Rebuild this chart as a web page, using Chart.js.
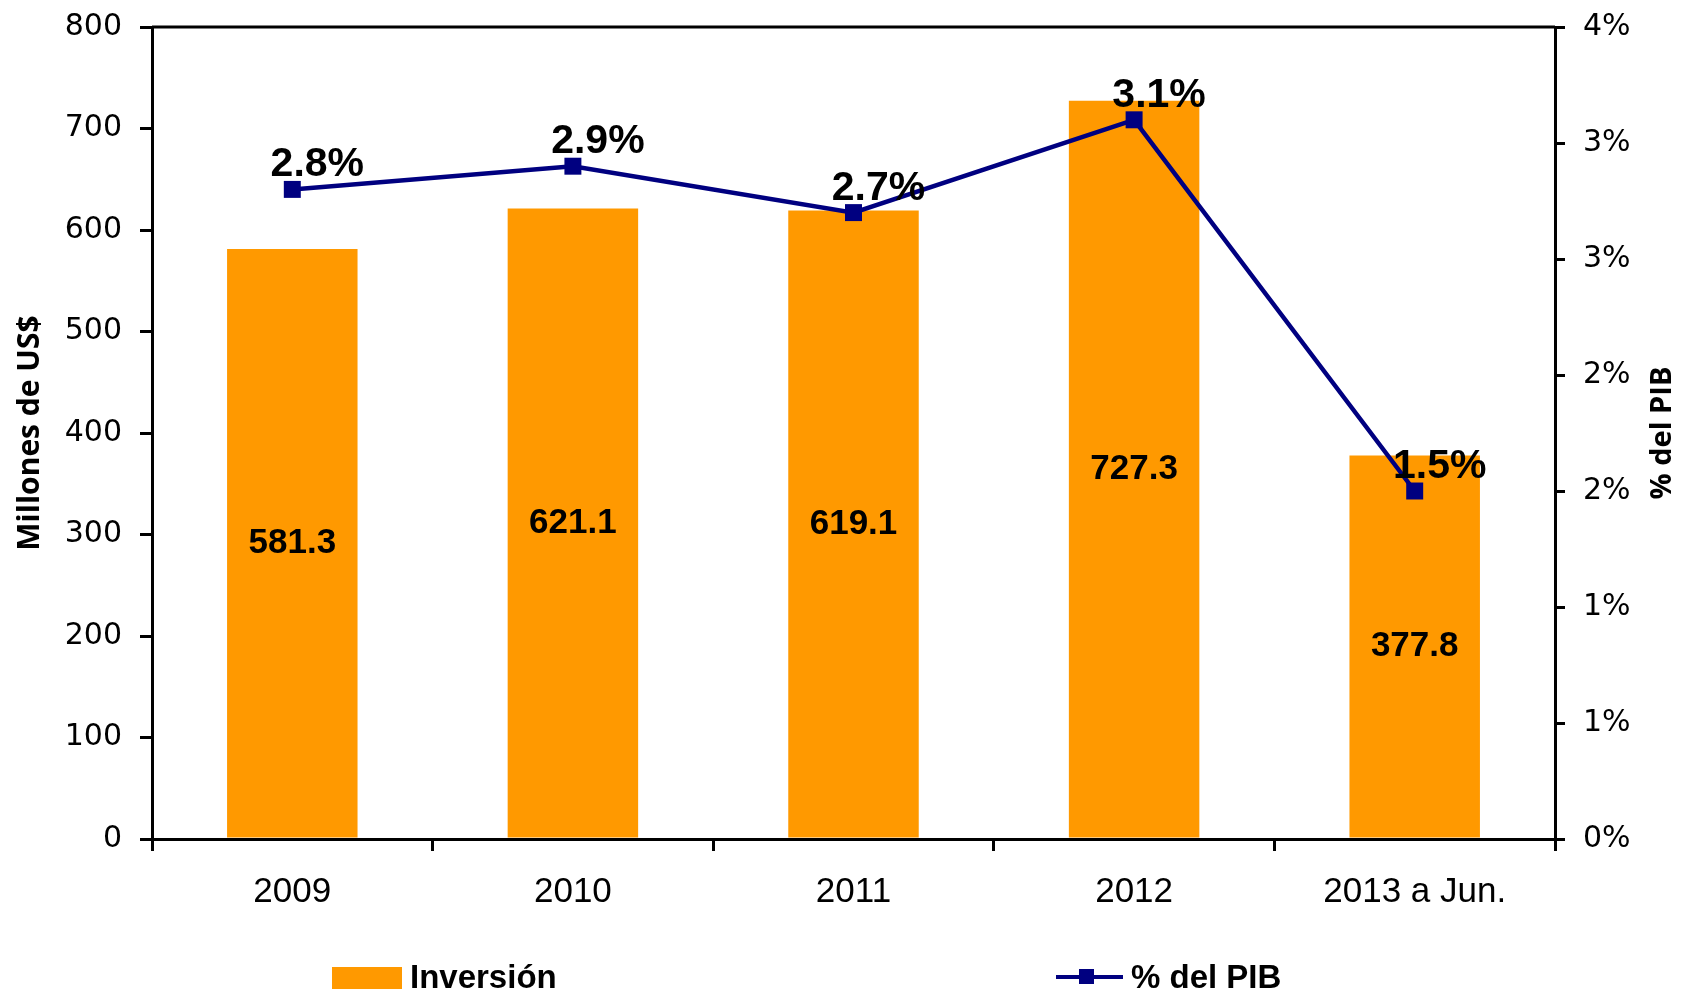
<!DOCTYPE html>
<html lang="es">
<head>
<meta charset="utf-8">
<title>Inversión y % del PIB</title>
<script src="https://cdn.jsdelivr.net/npm/chart.js@4.4.1/dist/chart.umd.min.js"></script>
<style>
  html, body { margin: 0; padding: 0; background: #fff; overflow: hidden; }
  #wrap { position: relative; width: 1681px; height: 993px; }
  #legend { position: absolute; left: 0; top: 0; width: 1681px; height: 993px; pointer-events: none; }
  .item { position: absolute; top: 960px; white-space: nowrap;
          font: bold 33px 'Liberation Sans', Arial, sans-serif;
          line-height: 33px; color: #000; }
  .swatch { position: absolute; }
</style>
</head>
<body>
<div id="wrap">
  <canvas id="chart" width="1681" height="993"></canvas>
  <div id="legend"></div>
</div>
<script>
const years = ["2009", "2010", "2011", "2012", "2013 a Jun."];
const investment = [581.3, 621.1, 619.1, 727.3, 377.8];
const pctGdp = [2.8, 2.9, 2.7, 3.1, 1.5];

const barColor = "#FF9900";
const lineColor = "#000080";

const tickFont = { family: "'DejaVu Sans', Verdana, sans-serif", size: 30 };
const titleFont = { family: "'Open Sans', 'DejaVu Sans', sans-serif", size: 30, weight: "bold" };

// value labels, top frame line and right axis title
const extras = {
  id: "extras",
  afterDatasetsDraw(chart) {
    const ctx = chart.ctx;
    const area = chart.chartArea;
    ctx.save();

    ctx.fillStyle = "#000";
    ctx.textAlign = "center";
    ctx.textBaseline = "middle";
    ctx.font = "bold 35px 'Liberation Sans', Arial, sans-serif";
    chart.getDatasetMeta(1).data.forEach((bar, i) => {
      const p = bar.getProps(["x", "y", "base"], true);
      ctx.fillText(investment[i].toFixed(1), p.x, (p.y + p.base) / 2);
    });

    ctx.textBaseline = "alphabetic";
    ctx.font = "bold 41px 'Liberation Sans', Arial, sans-serif";
    chart.getDatasetMeta(0).data.forEach((pt, i) => {
      ctx.fillText(pctGdp[i].toFixed(1) + "%", pt.x + 25, pt.y - 13);
    });

    // top border of the plot area
    ctx.strokeStyle = "#000";
    ctx.lineWidth = 3;
    ctx.beginPath();
    ctx.moveTo(area.left, area.top);
    ctx.lineTo(area.right, area.top);
    ctx.stroke();

    // right axis title, reads bottom to top like the left one
    ctx.translate(1663, (area.top + area.bottom) / 2);
    ctx.rotate(-Math.PI / 2);
    ctx.textAlign = "center";
    ctx.textBaseline = "middle";
    ctx.font = "bold 29px 'Open Sans', 'DejaVu Sans', sans-serif";
    ctx.fillText("% del PIB", 0, 0);
    ctx.restore();
  }
};

// fixed axis sizes so the plot area sits where the original has it
function fixVertical(width) {
  return (s) => {
    s.width = width;
    s.paddingTop = 0;
    s.paddingBottom = 0;
  };
}

const chart = new Chart(document.getElementById("chart"), {
  data: {
    labels: years,
    datasets: [
      {
        type: "line",
        label: "% del PIB",
        data: pctGdp,
        yAxisID: "y1",
        borderColor: lineColor,
        backgroundColor: lineColor,
        borderWidth: 4.5,
        pointStyle: "rect",
        pointRadius: 12,
        pointBorderWidth: 0,
        pointBackgroundColor: lineColor,
        tension: 0,
        order: 0,
      },
      {
        type: "bar",
        label: "Inversión",
        data: investment,
        yAxisID: "y",
        backgroundColor: barColor,
        barPercentage: 0.465,
        categoryPercentage: 1,
        order: 1,
      },
    ],
  },
  options: {
    responsive: false,
    animation: false,
    layout: { padding: { top: 27, left: 0, right: 0, bottom: 0 } },
    plugins: { legend: { display: false }, tooltip: { enabled: false } },
    scales: {
      x: {
        offset: true,
        grid: { display: true, drawOnChartArea: false, offset: true, tickLength: 12, color: "#000", lineWidth: 3 },
        border: { display: true, color: "#000", width: 3 },
        ticks: {
          color: "#000",
          padding: 20,
          maxRotation: 0,
          font: { family: "'Liberation Sans', Arial, sans-serif", size: 35 },
        },
        afterFit: (s) => { s.height = 154; },
      },
      y: {
        position: "left",
        min: 0,
        max: 800,
        ticks: { stepSize: 100, color: "#000", padding: 18, font: tickFont },
        grid: { drawOnChartArea: false, tickLength: 12, color: "#000", lineWidth: 3 },
        border: { display: true, color: "#000", width: 3 },
        title: { display: true, text: "Millones de US$", color: "#000", font: titleFont, padding: { top: 12, bottom: 0 } },
        afterFit: fixVertical(152),
      },
      y1: {
        position: "right",
        min: 0,
        max: 3.5,
        ticks: {
          stepSize: 0.5,
          color: "#000",
          padding: 18,
          font: tickFont,
          callback: (v) => Math.round(v) + "%",
        },
        grid: { drawOnChartArea: false, tickLength: 10, color: "#000", lineWidth: 3 },
        border: { display: true, color: "#000", width: 3 },
        afterFit: fixVertical(126),
      },
    },
  },
  plugins: [extras],
});

// legend below the chart, built from the datasets
const legend = document.getElementById("legend");
const barDs = chart.data.datasets[1];
const lineDs = chart.data.datasets[0];

function addSwatch(css) {
  const el = document.createElement("div");
  el.className = "swatch";
  el.style.cssText = css;
  legend.appendChild(el);
}
function addText(text, left) {
  const el = document.createElement("div");
  el.className = "item";
  el.style.left = left + "px";
  el.textContent = text;
  legend.appendChild(el);
}

addSwatch("left:332px;top:967px;width:70px;height:22px;background:" + barDs.backgroundColor);
addText(barDs.label, 410);

addSwatch("left:1056px;top:975px;width:67px;height:4px;background:" + lineDs.borderColor);
addSwatch("left:1079px;top:969px;width:15px;height:15px;background:" + lineDs.borderColor);
addText(lineDs.label, 1131);
</script>
</body>
</html>
